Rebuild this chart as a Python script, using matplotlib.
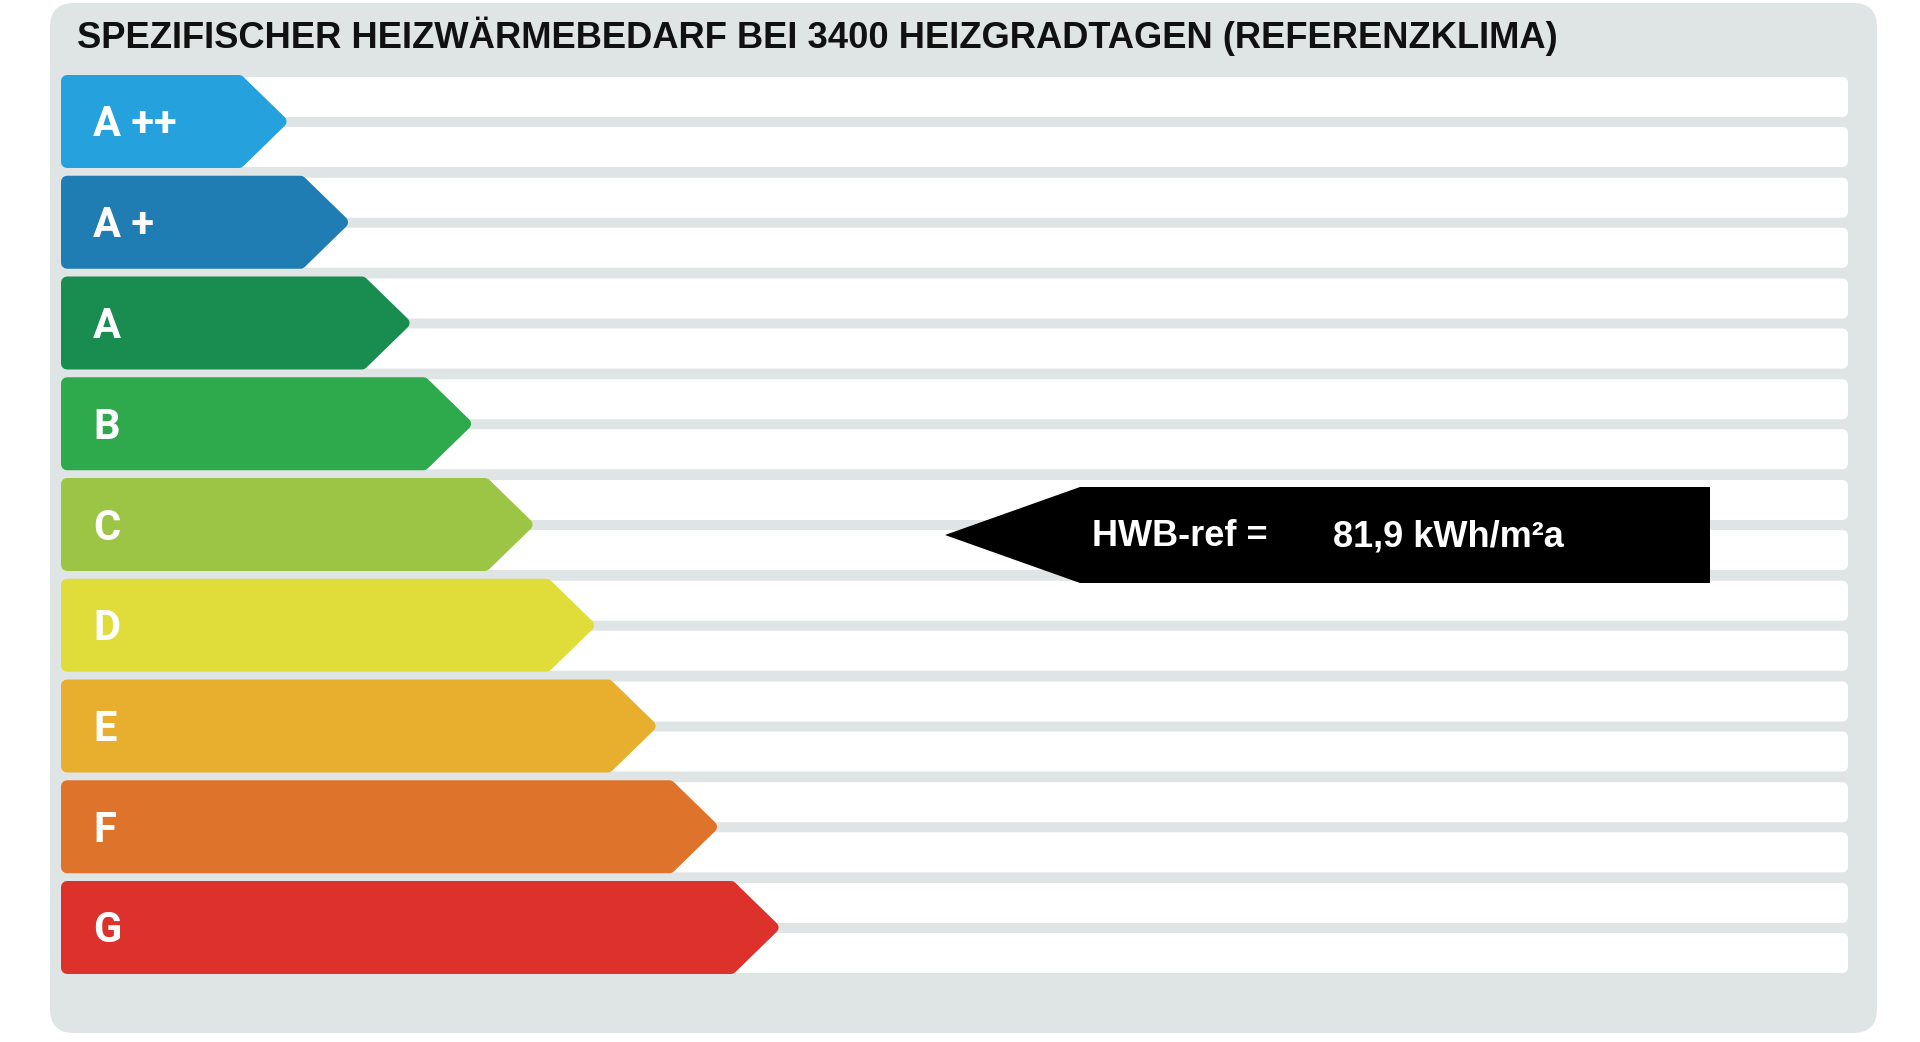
import numpy as np
import matplotlib
matplotlib.use('Agg')
from matplotlib import pyplot as plt
from matplotlib.patches import Polygon, FancyBboxPatch

# energy classes (top to bottom) and their colours
classes = ['A ++', 'A +', 'A', 'B', 'C', 'D', 'E', 'F', 'G']
class_colors = ['#25a1dd', '#1f7db4', '#198c4f', '#2ea94b', '#9cc545',
                '#e0dd3b', '#e8ae2d', '#de742c', '#dd312c']
# upper limits of HWB in kWh/m²a for each class (G open ended)
class_limits = [10, 15, 25, 50, 100, 150, 200, 250, np.inf]

title = 'SPEZIFISCHER HEIZWÄRMEBEDARF BEI 3400 HEIZGRADTAGEN (REFERENZKLIMA)'
hwb_ref = 81.9
hwb_label = 'HWB-ref ='
hwb_value = '81,9 kWh/m²a'

W, H = 1920, 1042
panel_col = '#dfe5e5'

fig = plt.figure(figsize=(W / 100, H / 100), dpi=100)
ax = fig.add_axes([0, 0, 1, 1])
ax.set_xlim(0, W)
ax.set_ylim(H, 0)
ax.axis('off')

# grey panel
ax.add_patch(FancyBboxPatch((50, 3), 1827, 1030, boxstyle='round,pad=0,rounding_size=24',
                            fc=panel_col, ec='none'))
ax.text(77, 48, title, fontsize=26.2, fontweight='bold', family='Liberation Sans',
        color='#111111', va='baseline', ha='left')

row_top0 = 75
row_step = 100.75
row_h = 93
tip0 = 289
tip_step = 61.5
depth = 49
lw_px = 12

for i, (lab, col) in enumerate(zip(classes, class_colors)):
    top = row_top0 + i * row_step
    bot = top + row_h
    cy = (top + bot) / 2
    # two white stripes per class
    for y0 in (top + 2, top + 52):
        ax.add_patch(FancyBboxPatch((70, y0), 1778, 40, boxstyle='round,pad=0,rounding_size=6',
                                    fc='white', ec='none'))
    # arrow with rounded corners (edge drawn in same colour)
    tip = tip0 + i * tip_step
    h = lw_px / 2
    pts = [(61 + h, top + h), (tip - depth - 1, top + h), (tip - h * 1.4, cy),
           (tip - depth - 1, bot - h), (61 + h, bot - h)]
    ax.add_patch(Polygon(pts, closed=True, fc=col, ec=col, lw=lw_px * 0.72,
                         joinstyle='round', zorder=3))
    ax.text(93, cy + 15, lab, fontsize=30, fontweight='bold', family='Roboto',
            color='white', va='baseline', ha='left', zorder=4)

# black marker arrow for the reference value
k = int(np.searchsorted(class_limits, hwb_ref))
mtop = row_top0 + k * row_step + 9
mbot = mtop + 96
mcy = (mtop + mbot) / 2
marker = [(945, mcy), (1080, mtop), (1710, mtop), (1710, mbot), (1080, mbot)]
ax.add_patch(Polygon(marker, closed=True, fc='black', ec='none', zorder=5))
ax.text(1092, mcy + 11, hwb_label, fontsize=26, fontweight='bold', family='Liberation Sans',
        color='white', va='baseline', ha='left', zorder=6)
ax.text(1333, mcy + 11, hwb_value, fontsize=26, fontweight='bold', family='Liberation Sans',
        color='white', va='baseline', ha='left', zorder=6)

fig.savefig('out.png', dpi=100, facecolor='white')
